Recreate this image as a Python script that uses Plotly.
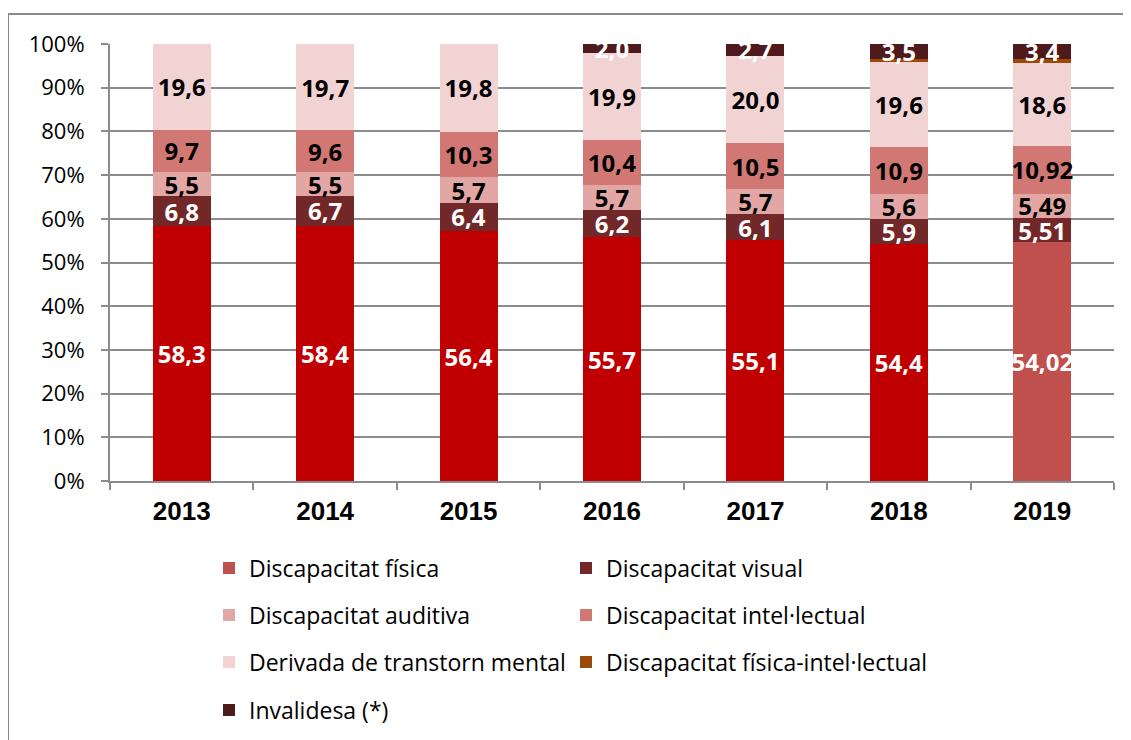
import plotly.graph_objects as go

years = ["2013", "2014", "2015", "2016", "2017", "2018", "2019"]
fisica = [58.3, 58.4, 56.4, 55.7, 55.1, 54.4, 54.02]
visual = [6.8, 6.7, 6.4, 6.2, 6.1, 5.9, 5.51]
auditiva = [5.5, 5.5, 5.7, 5.7, 5.7, 5.6, 5.49]
intel = [9.7, 9.6, 10.3, 10.4, 10.5, 10.9, 10.92]
mental = [19.6, 19.7, 19.8, 19.9, 20.0, 19.6, 18.6]
fisica_intel = [None, None, None, None, None, 0.6, 1.0]
invalidesa = [None, None, None, 2.0, 2.7, 3.5, 3.4]

FONT = "Open Sans"


def lab(vals):
    return ["" if v is None else str(v).replace(".", ",") for v in vals]


def bar(name, x, y, color, txtcolor, legend, showlegend=True, text=True):
    return go.Bar(
        name=name, x=x, y=y,
        marker=dict(color=color, line=dict(width=0)),
        text=lab(y) if text else None,
        textposition="inside", insidetextanchor="middle",
        textangle=0, constraintext="none",
        textfont=dict(family=FONT, size=24, color=txtcolor, weight="bold"),
        legend=legend, showlegend=showlegend,
    )


fig = go.Figure()
fig.add_trace(bar("Discapacitat física", years[:-1], fisica[:-1], "#C00000", "white", "legend", showlegend=False))
fig.add_trace(bar("Discapacitat física", years[-1:], fisica[-1:], "#C0504D", "white", "legend"))
fig.add_trace(bar("Discapacitat visual", years, visual, "#722828", "white", "legend2"))
fig.add_trace(bar("Discapacitat auditiva", years, auditiva, "#E2A6A5", "black", "legend3"))
fig.add_trace(bar("Discapacitat intel·lectual", years, intel, "#D27874", "black", "legend4"))
fig.add_trace(bar("Derivada de transtorn mental", years, mental, "#F2D3D4", "black", "legend5"))
fig.add_trace(bar("Discapacitat física-intel·lectual", years, fisica_intel, "#9C4807", "white", "legend6", text=False))
fig.add_trace(bar("Invalidesa (*)", years, invalidesa, "#4E1A1C", "white", "legend7"))

# page body adds an 8px offset; target positions are in screenshot pixels
OFF = 8
W, H = 1131, 740
L, T = 110 - OFF, 44 - OFF
R = W - (1114 - OFF)
B = H - (481 - OFF)
PW, PH = W - L - R, H - T - B


def px_x(x):
    return (x - OFF - L) / PW


def px_y(y):
    return (H - B - (y - OFF)) / PH


leg_common = dict(
    orientation="h",
    font=dict(family=FONT, size=23, color="black"),
    xanchor="left", yanchor="middle", bgcolor="rgba(0,0,0,0)",
    itemclick=False, itemdoubleclick=False,
)
legend_rows = [568, 615, 662, 710]
COL1, COL2 = px_x(209), px_x(566)
legend_pos = [
    (COL1, legend_rows[0]), (COL2, legend_rows[0]),
    (COL1, legend_rows[1]), (COL2, legend_rows[1]),
    (COL1, legend_rows[2]), (COL2, legend_rows[2]),
    (COL1, legend_rows[3]),
]
legends = {}
for i, (lx, ly) in enumerate(legend_pos):
    key = "legend" if i == 0 else f"legend{i + 1}"
    legends[key] = dict(leg_common, x=lx, y=px_y(ly))

fig.update_layout(
    width=W, height=H,
    margin=dict(l=L, r=R, t=T, b=B),
    paper_bgcolor="white", plot_bgcolor="white",
    barmode="stack", barnorm="percent", bargap=0.596,
    font=dict(family=FONT, size=22, color="black"),
    xaxis=dict(
        showline=True, linecolor="#8C8C8C", linewidth=2,
        ticks="outside", tickson="boundaries", ticklen=7, tickcolor="#8C8C8C", tickwidth=2,
        tickfont=dict(family="Liberation Sans", size=26, color="black", weight="bold"),
        ticklabelstandoff=6,
        showgrid=False,
    ),
    yaxis=dict(
        range=[0, 100], dtick=10, ticksuffix="%",
        showline=True, linecolor="#8C8C8C", linewidth=2,
        ticks="outside", ticklen=7, tickcolor="#8C8C8C", tickwidth=2,
        showgrid=True, gridcolor="#8C8C8C", gridwidth=2,
        tickfont=dict(family=FONT, size=22, color="black"),
        ticklabelstandoff=12,
        zeroline=False,
    ),
    shapes=[dict(
        type="rect", xref="paper", yref="paper",
        x0=px_x(8), x1=px_x(1180), y0=px_y(800), y1=px_y(14),
        line=dict(color="#8C8C8C", width=2), layer="below",
    )],
    **legends,
)

fig.write_html("out.html")
